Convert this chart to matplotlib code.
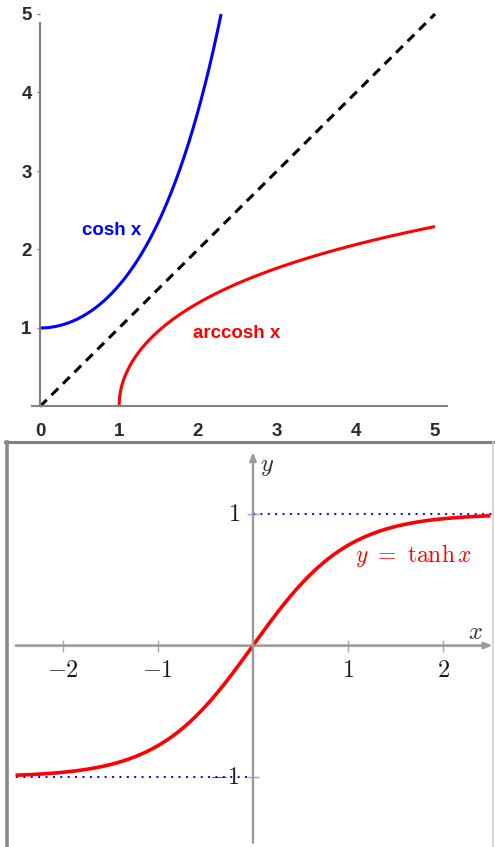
import numpy as np
import matplotlib
matplotlib.use("Agg")
import matplotlib.pyplot as plt
from matplotlib.lines import Line2D

W, H = 495, 847

# ---- top panel: cosh, arccosh and the mirror line y = x ----
cosh_domain = (0.0, 2.2924)      # cosh x runs from x=0 up to cosh x = 5
arccosh_domain = (1.0, 5.0)
identity_domain = (0.0, 5.0)
top_xticks = [0, 1, 2, 3, 4, 5]
top_yticks = [1, 2, 3, 4, 5]
top_labels = {"cosh x": (0.53, 2.18), "arccosh x": (1.94, 0.87)}

# ---- bottom panel: tanh with its asymptotes ----
tanh_domain = (-2.5, 2.5)
asymptote_upper = (1.0, 0.0, 2.53)     # level, x start, x end
asymptote_lower = (-1.0, -2.5, 0.0)
bot_xticks = [-2, -1, 1, 2]
bot_yticks = [-1, 1]

fig = plt.figure(figsize=(W / 100, H / 100), dpi=100)

def fx(px):
    return px / W

def fy(py):
    return 1 - py / H

# top axes: x 0 -> px 40, 79 px per unit; y 0 -> px 406.5, 78.5 px per unit
x0p, xs = 40.0, 79.0
y0p, ys = 406.5, 78.5
xl = (-0.1, 5.15)
yl = (0.0, 5.12)
left_px = x0p + xl[0] * xs
right_px = x0p + xl[1] * xs
bot_px = y0p - yl[0] * ys
top_px = y0p - yl[1] * ys
ax = fig.add_axes([fx(left_px), fy(bot_px), (right_px - left_px) / W, (bot_px - top_px) / H])
ax.set_xlim(*xl)
ax.set_ylim(*yl)

xc = np.linspace(*cosh_domain, 300)
ax.plot(xc, np.cosh(xc), color="#0000ff", lw=2.2, clip_on=False, solid_capstyle="butt")
xa = np.linspace(*arccosh_domain, 600)
ax.plot(xa, np.arccosh(xa), color="#ff0000", lw=2.2, clip_on=False, solid_capstyle="butt")
xi = np.array(identity_domain)
ax.plot(xi, xi, color="black", lw=2.2, linestyle=(0, (3.1, 2.2)), clip_on=False)

for s in ("top", "right"):
    ax.spines[s].set_visible(False)
ax.spines["left"].set_position(("data", 0))
ax.spines["left"].set_bounds(0, 4.88)
for s in ("left", "bottom"):
    ax.spines[s].set_color("#808080")
    ax.spines[s].set_linewidth(1.5)

ax.set_xticks(top_xticks)
ax.set_yticks(top_yticks)
tick_font = dict(family="Liberation Sans", weight="bold", size=13.5)
ax.set_xticklabels([str(t) for t in top_xticks], **tick_font, color="#2a2a2a")
ax.set_yticklabels([str(t) for t in top_yticks], **tick_font, color="#2a2a2a")
ax.tick_params(axis="x", length=0, pad=12)
ax.tick_params(axis="y", length=2, width=1, color="#808080", pad=4)

ax.text(*top_labels["cosh x"], "cosh x", color="#0000ff", va="baseline", ha="left",
        family="Liberation Sans", weight="bold", size=13.5)
ax.text(*top_labels["arccosh x"], "arccosh x", color="#ff0000", va="baseline", ha="left",
        family="Liberation Sans", weight="bold", size=13.5)

# bottom axes: x 0 -> px 253, 95 px per unit; y 0 -> px 645.5, 131.5 px per unit
bx0, bxs = 253.0, 95.0
by0, bys = 645.5, 131.5
bl, br, bt, bb = 8.0, 493.0, 442.0, 847.0
ax2 = fig.add_axes([fx(bl), fy(bb), (br - bl) / W, (bb - bt) / H])
ax2.set_xlim((bl - bx0) / bxs, (br - bx0) / bxs)
ax2.set_ylim((by0 - bb) / bys, (by0 - bt) / bys)
for s in ax2.spines.values():
    s.set_visible(False)
ax2.set_xticks([])
ax2.set_yticks([])

plt.rcParams["mathtext.fontset"] = "cm"
axis_gray = "#b8b8b8"

# coordinate axes with arrowheads
ax2.annotate("", xy=(2.52, 0), xytext=(-2.5, 0),
             arrowprops=dict(arrowstyle="-|>,head_length=0.5,head_width=0.2",
                             color="#9a9a9a", lw=1.6, shrinkA=0, shrinkB=0))
ax2.annotate("", xy=(0, 1.47), xytext=(0, -1.5),
             arrowprops=dict(arrowstyle="-|>,head_length=0.5,head_width=0.2",
                             color="#9a9a9a", lw=1.6, shrinkA=0, shrinkB=0))
ax2.plot([-2.5, 2.45], [0, 0], color=axis_gray, lw=1.6, solid_capstyle="butt")
ax2.plot([0, 0], [-1.5, 1.42], color=axis_gray, lw=1.6, solid_capstyle="butt")

# tick marks
ax2.plot(bot_xticks, [0] * len(bot_xticks), linestyle="none", marker="|",
         markersize=8, markeredgewidth=1.0, color="#a8a8a8")
ax2.plot([0] * len(bot_yticks), bot_yticks, linestyle="none", marker="_",
         markersize=8, markeredgewidth=1.0, color="#a8a8a8")

# asymptotes
dot = (0, (1, 2.8))
ax2.plot([asymptote_upper[1], asymptote_upper[2]], [asymptote_upper[0]] * 2,
         color="#0000ff", lw=1.4, linestyle=dot)
ax2.plot([asymptote_lower[1], asymptote_lower[2]], [asymptote_lower[0]] * 2,
         color="#0000ff", lw=1.4, linestyle=dot)

xt = np.linspace(*tanh_domain, 400)
ax2.plot(xt, np.tanh(xt), color="#ff0000", lw=2.6, solid_capstyle="butt")

tfs = 17.5
for t in bot_xticks:
    lab = r"$-%d$" % abs(t) if t < 0 else r"$%d$" % t
    ax2.text(t, -24 / bys, lab, ha="center", va="center", size=tfs, color="#1a1a1a")
for t in bot_yticks:
    lab = r"$-%d$" % abs(t) if t < 0 else r"$%d$" % t
    ax2.text(-13 / bxs, t, lab, ha="right", va="center", size=tfs, color="#1a1a1a")

ax2.text((475 - bx0) / bxs, (by0 - 632) / bys, r"$x$", ha="center", va="center",
         size=tfs, color="#333333")
ax2.text((267 - bx0) / bxs, (by0 - 466) / bys, r"$y$", ha="center", va="center",
         size=tfs, color="#333333")
ax2.text((355 - bx0) / bxs, (by0 - 562) / bys, r"$y\ =\ \tanh x$", ha="left",
         va="baseline", size=17, color="#ff0000")

# frame around the lower panel
fig.add_artist(Line2D([fx(5), fx(495)], [fy(442), fy(442)], color="#808080", lw=2.2,
                      transform=fig.transFigure))
fig.add_artist(Line2D([fx(7), fx(7)], [fy(442), fy(847)], color="#888888", lw=2.6,
                      transform=fig.transFigure))
fig.add_artist(Line2D([fx(493), fx(493)], [fy(442), fy(847)], color="#d0d0d0", lw=1.2,
                      transform=fig.transFigure))

fig.savefig("out.png", dpi=100)
